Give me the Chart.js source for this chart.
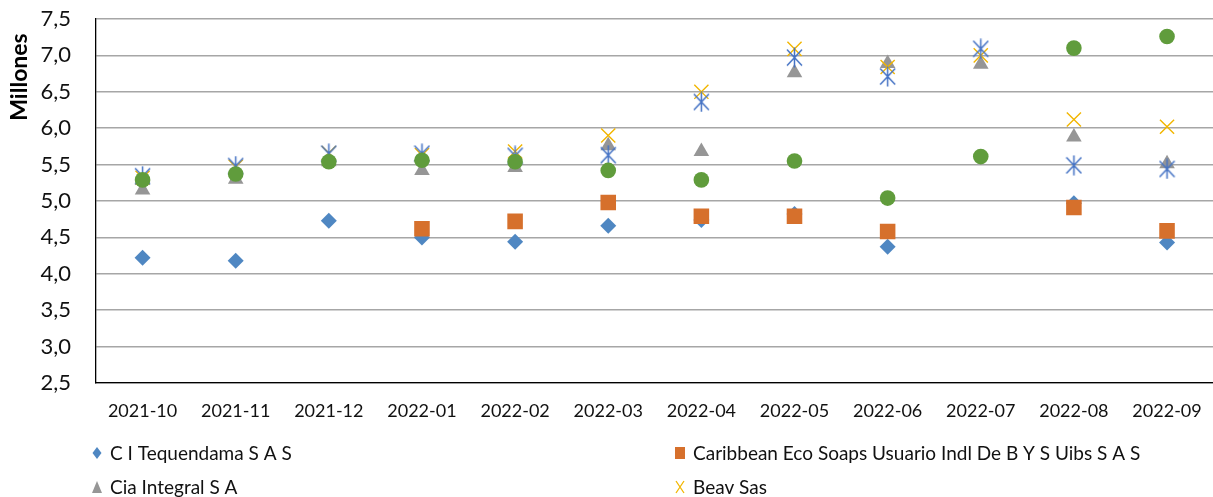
<!DOCTYPE html>
<html>
<head>
<meta charset="utf-8">
<script src="https://cdn.jsdelivr.net/npm/chart.js@4.4.0/dist/chart.umd.min.js"></script>
<style>
html, body { margin: 0; padding: 0; background: #fff; overflow: hidden; }
#wrap { position: absolute; left: 0; top: 0; width: 1225px; height: 497px; }
</style>
</head>
<body>
<div id="wrap"><canvas id="chart" width="1225" height="497"></canvas></div>
<script>
const months = ['2021-10', '2021-11', '2021-12', '2022-01', '2022-02', '2022-03',
                '2022-04', '2022-05', '2022-06', '2022-07', '2022-08', '2022-09'];

// values in millions
const tequendama  = [4.22, 4.18, 4.73, 4.50, 4.44, 4.66, 4.74, 4.82, 4.37, null, 4.97, 4.43];
const caribbean   = [null, null, null, 4.62, 4.72, 4.98, 4.79, 4.79, 4.58, null, 4.91, 4.59];
const ciaIntegral = [5.15, 5.30, 5.54, 5.42, 5.46, 5.76, 5.68, 6.76, 6.89, 6.88, 5.88, 5.51];
const beavSas     = [5.32, 5.47, 5.66, 5.63, 5.68, 5.90, 6.50, 7.09, 6.84, 7.00, 6.12, 6.02];
const serie5      = [5.34, 5.48, 5.65, 5.65, 5.62, 5.63, 6.36, 6.97, 6.71, 7.09, 5.49, 5.44];
const serie6      = [5.29, 5.37, 5.54, 5.56, 5.54, 5.42, 5.29, 5.55, 5.04, 5.61, 7.10, 7.26];

const seriesNames = ['C I Tequendama S A S', 'Caribbean Eco Soaps Usuario Indl De B Y S Uibs S A S',
                     'Cia Integral S A', 'Beav Sas', 'Serie 5', 'Serie 6'];

const yMin = 2.5, yMax = 7.5, yStep = 0.5;

const BLUE = '#4f87c2', ORANGE = '#d6702c', GRAY = '#969696', GOLD = '#f2b600',
      STARBLUE = '#4472c4', GREEN = '#609c3c';

// excel style star: an X with a vertical stroke
function makeStar(color) {
    const c = document.createElement('canvas');
    c.width = 17; c.height = 21;
    const g = c.getContext('2d');
    g.strokeStyle = color;
    g.lineWidth = 1.5;
    g.beginPath();
    g.moveTo(1, 2.5); g.lineTo(16, 18.5);
    g.moveTo(16, 2.5); g.lineTo(1, 18.5);
    g.moveTo(8.5, 0.5); g.lineTo(8.5, 20.5);
    g.stroke();
    return c;
}

function ds(i, data, style, color, radius, extra) {
    return Object.assign({
        label: seriesNames[i],
        data: data,
        showLine: false,
        pointStyle: style,
        pointRadius: radius,
        pointHoverRadius: radius,
        pointBackgroundColor: color,
        pointBorderColor: color,
        pointBorderWidth: 0,
        order: 5 - i
    }, extra || {});
}

// y axis title, drawn near the top like the original
const yTitle = {
    id: 'yTitle',
    afterDraw(chart) {
        const ctx = chart.ctx;
        ctx.save();
        ctx.translate(20, 77);
        ctx.rotate(-Math.PI / 2);
        ctx.font = 'bold 23px Lato';
        ctx.fillStyle = '#000';
        ctx.textAlign = 'center';
        ctx.textBaseline = 'middle';
        ctx.fillText('Millones', 0, 0);
        ctx.restore();
    }
};

// two column legend under the chart (only the first four entries fit)
const legendGrid = {
    id: 'legendGrid',
    afterDraw(chart) {
        const ctx = chart.ctx;
        const cols = [97, 680], rows = [453, 487];
        const marks = ['diamond', 'square', 'triangle', 'cross'];
        const colors = [BLUE, ORANGE, GRAY, GOLD];
        ctx.save();
        ctx.font = '19px Lato';
        ctx.textBaseline = 'middle';
        for (let i = 0; i < 4; i++) {
            const x = cols[i % 2], y = rows[Math.floor(i / 2)];
            ctx.fillStyle = colors[i];
            ctx.strokeStyle = colors[i];
            ctx.beginPath();
            if (marks[i] === 'diamond') {
                ctx.moveTo(x, y - 6); ctx.lineTo(x + 4.5, y); ctx.lineTo(x, y + 6); ctx.lineTo(x - 4.5, y);
                ctx.closePath(); ctx.fill();
            } else if (marks[i] === 'square') {
                ctx.rect(x - 5, y - 6, 10, 12); ctx.fill();
            } else if (marks[i] === 'triangle') {
                ctx.moveTo(x, y - 6); ctx.lineTo(x + 5, y + 6); ctx.lineTo(x - 5, y + 6);
                ctx.closePath(); ctx.fill();
            } else {
                ctx.lineWidth = 1.3;
                ctx.moveTo(x - 4, y - 6); ctx.lineTo(x + 4, y + 6);
                ctx.moveTo(x + 4, y - 6); ctx.lineTo(x - 4, y + 6);
                ctx.stroke();
            }
            ctx.fillStyle = '#111';
            ctx.fillText(seriesNames[i], x + 13, y + 1);
        }
        ctx.restore();
    }
};

new Chart(document.getElementById('chart'), {
    type: 'line',
    data: {
        labels: months,
        datasets: [
            ds(0, tequendama, 'rectRot', BLUE, 8),
            ds(1, caribbean, 'rect', ORANGE, 11),
            ds(2, ciaIntegral, 'triangle', GRAY, 9),
            ds(3, beavSas, 'crossRot', GOLD, 10, { pointBorderWidth: 1.4 }),
            ds(4, serie5, makeStar(STARBLUE), STARBLUE, 10),
            ds(5, serie6, 'circle', GREEN, 7.8)
        ]
    },
    options: {
        responsive: false,
        animation: false,
        events: [],
        layout: { padding: { top: 19, left: 0, right: 1, bottom: 67 } },
        plugins: {
            legend: { display: false },
            tooltip: { enabled: false }
        },
        scales: {
            x: {
                offset: true,
                grid: { display: false, drawTicks: false },
                border: { display: true, color: '#000', width: 1.3 },
                ticks: { color: '#111', font: { family: 'Lato', size: 18 }, padding: 17, maxRotation: 0 },
                afterFit: s => { s.height = 47; }
            },
            y: {
                min: yMin,
                max: yMax,
                grid: { color: '#a6a6a6', lineWidth: 1.5, drawTicks: false },
                border: { display: true, color: '#000', width: 1.3 },
                ticks: {
                    stepSize: yStep,
                    padding: 25,
                    color: '#111',
                    font: { family: 'Lato', size: 22 },
                    callback: v => v.toFixed(1).replace('.', ',')
                },
                afterFit: s => { s.width = 96; s.paddingTop = 0; s.paddingBottom = 0; }
            }
        }
    },
    plugins: [yTitle, legendGrid]
});
</script>
</body>
</html>
